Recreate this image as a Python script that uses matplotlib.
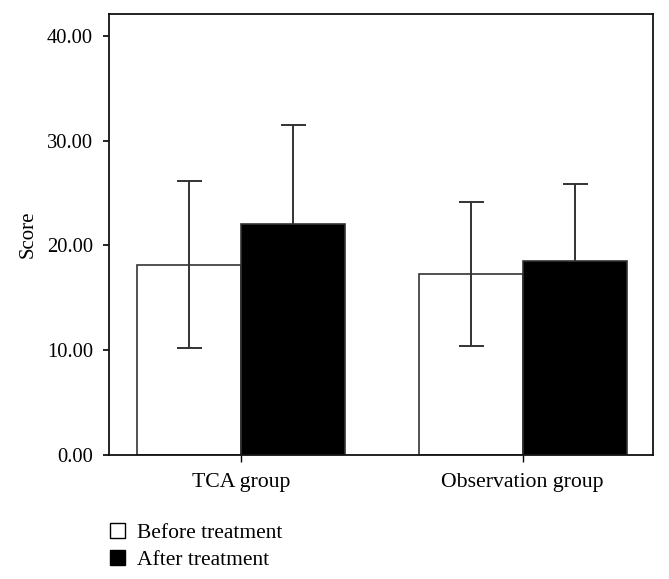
import matplotlib
matplotlib.use("Agg")
import matplotlib.pyplot as plt
import numpy as np
from matplotlib.patches import Patch

groups = ["TCA group", "Observation group"]
series_names = ["Before treatment", "After treatment"]
before_mean = [18.17, 17.28]
before_sd = [8.0, 6.83]
after_mean = [22.05, 18.49]
after_sd = [9.48, 7.41]
yticks = [0, 10, 20, 30, 40]
ytick_labels = ["0.00", "10.00", "20.00", "30.00", "40.00"]

plt.rcParams['font.family'] = ['Liberation Serif', 'DejaVu Serif']

fig = plt.figure(figsize=(6.69, 5.79), dpi=100)
ax = fig.add_axes([0.1634, 0.2142, 0.8131, 0.7608])

x = np.arange(len(groups))
w = 0.369
edge = '#333333'
ax.bar(x - w/2, before_mean, w, color='white', edgecolor=edge, linewidth=1.2, zorder=2)
ax.bar(x + w/2, after_mean, w, color='black', edgecolor=edge, linewidth=1.2, zorder=2)
ax.errorbar(x - w/2, before_mean, yerr=before_sd, fmt='none', ecolor=edge,
            elinewidth=1.4, capsize=9, capthick=1.4, zorder=3)
ax.errorbar(x + w/2, after_mean, yerr=after_sd, fmt='none', ecolor=edge,
            elinewidth=1.4, capsize=9, capthick=1.4, zorder=1)

ax.set_xlim(-0.466, 1.463)
ax.set_ylim(0, 42.05)
ax.set_yticks(yticks)
ax.set_yticklabels(ytick_labels)
ax.set_xticks(x)
ax.set_xticklabels(groups)
ax.tick_params(axis='y', length=4.3, width=1.2, pad=7.5, labelsize=14.8)
ax.tick_params(axis='x', length=4.8, width=1.0, pad=8, labelsize=15.7)
for s in ax.spines.values():
    s.set_linewidth(1.3)
    s.set_color('#111111')
ax.set_ylabel("Score", fontsize=15, labelpad=6.5)

handles = [Patch(facecolor='white', edgecolor='black', linewidth=1.0),
           Patch(facecolor='black', edgecolor='black', linewidth=1.0)]
fig.legend(handles, series_names, loc='upper left', bbox_to_anchor=(0.1645, 0.096),
           frameon=False, fontsize=15.5, handlelength=0.7, handleheight=0.7,
           handletextpad=0.55, labelspacing=0.3, borderpad=0, borderaxespad=0)

fig.savefig("out.png", dpi=100)
